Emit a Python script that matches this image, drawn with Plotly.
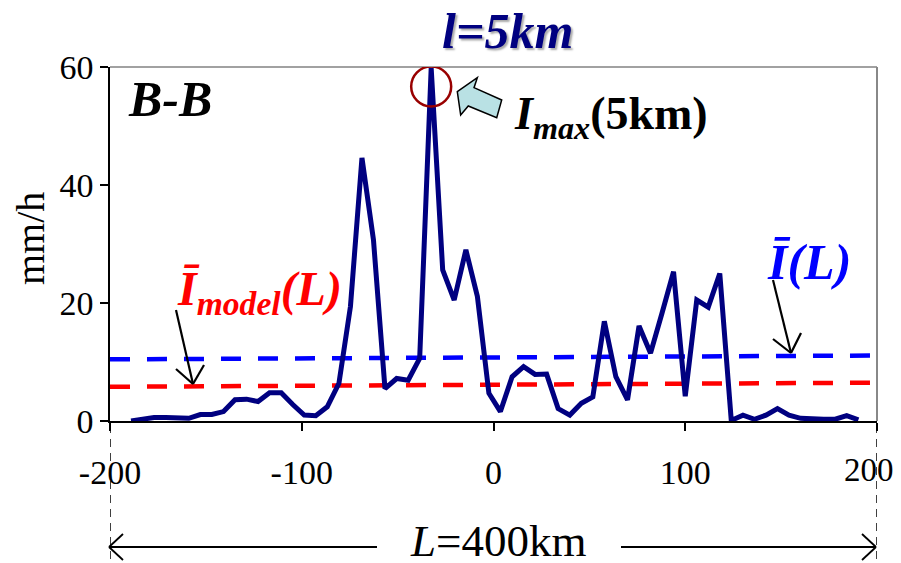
import plotly.graph_objects as go

# ---------------- data ----------------
dist_km = [-189.0, -183.0, -177.0, -170.9, -164.9, -158.9, -152.9, -146.9, -140.8, -134.8,
           -128.8, -122.8, -116.8, -110.7, -104.7, -98.7, -92.7, -86.7, -80.6, -74.6,
           -68.6, -62.6, -56.6, -50.5, -44.5, -38.5, -32.5, -26.5, -20.5, -14.4,
           -8.4, -2.4, 3.6, 9.7, 15.7, 21.7, 27.7, 33.7, 39.8, 45.8,
           51.8, 57.8, 63.8, 69.9, 75.9, 81.9, 87.9, 93.9, 100.0, 106.0,
           112.0, 118.0, 124.0, 130.1, 136.1, 142.1, 148.1, 154.1, 160.2, 166.2,
           172.2, 178.2, 184.2, 190.3]
rain_mmh = [0.0, 0.35, 0.6, 0.6, 0.5, 0.45, 1.1, 1.1, 1.6, 3.6,
            3.7, 3.3, 4.8, 4.8, 2.8, 1.0, 0.9, 2.4, 6.4, 19.4,
            44.6, 30.7, 5.5, 7.2, 6.9, 10.6, 59.8, 25.6, 20.5, 29.0,
            21.1, 4.7, 1.6, 7.5, 9.2, 7.9, 7.95, 2.1, 1.0, 3.0,
            4.1, 16.9, 7.5, 3.6, 16.1, 11.5, 18.3, 25.3, 4.2, 20.5,
            19.3, 25.0, 0.1, 1.0, 0.3, 1.0, 2.1, 1.0, 0.45, 0.3,
            0.3, 0.3, 0.9, 0.2]

mean_x = [-200, 200]
mean_obs = [10.45, 11.1]      # I(L)
mean_model = [5.8, 6.5]       # I_model(L)

x_ticks = [-200, -100, 0, 100, 200]
x_tick_labels = ["-200", "-100", "0", "100", "200"]
y_ticks = [0, 20, 40, 60]

peak_x = -32.5
peak_y = 56.7

SERIF = "Liberation Serif"
NAVY = "#000080"

# page offset (browser default body margin) and plot area in screen pixels
OFF = 8
FW, FH = 901 - OFF, 563 - OFF
L, R, T, B = 110, 877, 67, 421
W, H = R - L, B - T


def px(xp):
    return (xp - L) / W


def py(yp):
    return (B - yp) / H


fig = go.Figure()

fig.add_trace(go.Scatter(x=mean_x, y=mean_obs, mode="lines",
                         line=dict(color="#0000FF", width=4.5, dash="20px,17px"),
                         showlegend=False, hoverinfo="skip"))
fig.add_trace(go.Scatter(x=mean_x, y=mean_model, mode="lines",
                         line=dict(color="#FF0000", width=4.5, dash="20px,17px"),
                         showlegend=False, hoverinfo="skip"))
fig.add_trace(go.Scatter(x=dist_km, y=rain_mmh, mode="lines",
                         line=dict(color=NAVY, width=5),
                         showlegend=False))

shapes = []
# top and right frame
shapes.append(dict(type="line", xref="paper", yref="paper", x0=0, x1=1, y0=1, y1=1,
                   line=dict(color="#444444", width=1.2)))
shapes.append(dict(type="line", xref="paper", yref="paper", x0=1, x1=1, y0=0, y1=1,
                   line=dict(color="#888888", width=2)))
# circle around the max
shapes.append(dict(type="circle", xref="x", yref="y", xsizemode="pixel", ysizemode="pixel",
                   xanchor=peak_x, yanchor=peak_y, x0=-20, x1=20, y0=-20, y1=20,
                   line=dict(color="#990000", width=2.5)))
# block arrow pointing at the max
pts = [(457.3, 91.7), (477.3, 77.7), (474, 87.7), (501.7, 100), (496.7, 117.7),
       (468.3, 106), (460.7, 115)]
path = "M " + " L ".join(f"{px(a):.4f},{py(b):.4f}" for a, b in pts) + " Z"
shapes.append(dict(type="path", xref="paper", yref="paper", path=path,
                   fillcolor="#B9E1E4", line=dict(color="black", width=1.5)))


def arrow(x0, y0, x1, y1, a1, a2):
    out = [dict(type="line", xref="paper", yref="paper", x0=px(x0), y0=py(y0), x1=px(x1), y1=py(y1),
                line=dict(color="black", width=2.2))]
    for (ax, ay) in (a1, a2):
        out.append(dict(type="line", xref="paper", yref="paper", x0=px(ax), y0=py(ay),
                        x1=px(x1), y1=py(y1), line=dict(color="black", width=2.2)))
    return out


shapes += arrow(176, 310, 193, 384, (176, 369), (204, 365))
shapes += arrow(773, 280, 791, 353, (773, 339), (801, 333))

# bottom dashed verticals and L arrow
for xv in (-200, 200):
    shapes.append(dict(type="line", xref="x", yref="paper", x0=xv, x1=xv, y0=py(425), y1=py(563),
                       line=dict(color="black", width=1.5, dash="8px,6px")))
ya = 547
shapes.append(dict(type="line", xref="paper", yref="paper", x0=px(109), x1=px(377), y0=py(ya), y1=py(ya),
                   line=dict(color="black", width=1.8)))
shapes.append(dict(type="line", xref="paper", yref="paper", x0=px(621), x1=px(876), y0=py(ya), y1=py(ya),
                   line=dict(color="black", width=1.8)))
for tipx, d in ((109, 1), (876, -1)):
    for dy in (-13, 13):
        shapes.append(dict(type="line", xref="paper", yref="paper", x0=px(tipx), y0=py(ya),
                           x1=px(tipx + d * 14), y1=py(ya + dy), line=dict(color="black", width=1.8)))

annotations = [
    dict(text="<b><i>B-B</i></b>", x=px(126), y=py(99), xanchor="left", yanchor="middle",
         font=dict(family=SERIF, size=50, color="black")),
    dict(text="<b><i>l=5km</i></b>", x=px(507), y=py(31), xanchor="center", yanchor="middle",
         font=dict(family=SERIF, size=50, color=NAVY, shadow="2px 2px 2px #aaaaaa")),
    dict(text="<b><i>I<sub>max</sub></i>(5km)</b>", x=px(512), y=py(117), xanchor="left", yanchor="middle",
         font=dict(family=SERIF, size=46, color="black")),
    dict(text="<b><i>Ī<sub>model</sub>(L)</i></b>", x=px(175), y=py(292), xanchor="left", yanchor="middle",
         font=dict(family=SERIF, size=48, color="#FF0000")),
    dict(text="<b><i>Ī(L)</i></b>", x=px(809), y=py(262), xanchor="center", yanchor="middle",
         font=dict(family=SERIF, size=50, color="#0000FF")),
    dict(text="<i>L</i>=400km", x=px(498), y=py(541), xanchor="center", yanchor="middle",
         font=dict(family=SERIF, size=45, color="black")),
    dict(text="mm/h", x=px(30), y=py(239), xanchor="center", yanchor="middle", textangle=-90,
         font=dict(family=SERIF, size=40, color="black")),
    # last x tick label drawn as text so it is not hidden at the page edge
    dict(text=x_tick_labels[-1], x=px(896), y=py(470), xanchor="right", yanchor="middle",
         font=dict(family=SERIF, size=33, color="black")),
]
for a in annotations:
    a.update(xref="paper", yref="paper", showarrow=False)

fig.update_layout(
    width=FW, height=FH,
    margin=dict(l=L - OFF, r=FW - (R - OFF), t=T - OFF, b=FH - (B - OFF)),
    paper_bgcolor="white", plot_bgcolor="white",
    shapes=shapes, annotations=annotations,
    font=dict(family=SERIF, size=30, color="black"),
)
fig.update_xaxes(range=[-200, 200], tickvals=x_ticks, ticktext=x_tick_labels[:-1] + [""],
                 showgrid=False, zeroline=False, showline=True, linecolor="black", linewidth=1.5,
                 ticks="outside", ticklen=8, tickcolor="black", tickwidth=1.5,
                 ticklabelstandoff=12,
                 tickfont=dict(family=SERIF, size=34, color="black"))
fig.update_yaxes(range=[0, 60], tickvals=y_ticks, showgrid=False, zeroline=False,
                 showline=True, linecolor="black", linewidth=1.5,
                 ticks="outside", ticklen=8, tickcolor="black", tickwidth=1.5,
                 tickfont=dict(family=SERIF, size=34, color="black"))

fig.write_html("out.html")
